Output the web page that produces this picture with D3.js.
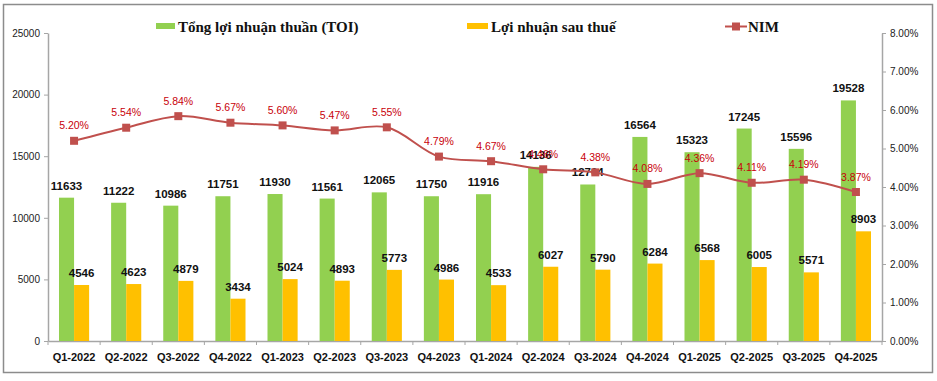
<!DOCTYPE html>
<html>
<head>
<meta charset="utf-8">
<script src="https://cdn.jsdelivr.net/npm/d3@7"></script>
<style>
html,body{margin:0;padding:0;background:#fff;}
svg{display:block;}
</style>
</head>
<body>
<svg id="chart" width="937" height="381"></svg>
<script>
const categories = ["Q1-2022","Q2-2022","Q3-2022","Q4-2022","Q1-2023","Q2-2023","Q3-2023","Q4-2023","Q1-2024","Q2-2024","Q3-2024","Q4-2024","Q1-2025","Q2-2025","Q3-2025","Q4-2025"];
const toi = [11633,11222,10986,11751,11930,11561,12065,11750,11916,14136,12704,16564,15323,17245,15596,19528];
const lnst = [4546,4623,4879,3434,5024,4893,5773,4986,4533,6027,5790,6284,6568,6005,5571,8903];
const nim = [5.20,5.54,5.84,5.67,5.60,5.47,5.55,4.79,4.67,4.46,4.38,4.08,4.36,4.11,4.19,3.87];
const leftTicks = [0,5000,10000,15000,20000,25000];
const rightTicks = [0,1,2,3,4,5,6,7,8];
const seriesNames = ["Tổng lợi nhuận thuần (TOI)","Lợi nhuận  sau thuế","NIM"];

const svg = d3.select("#chart");
const plot = {left:48, right:882, top:33, bottom:341};

// border
svg.append("rect").attr("x",3.5).attr("y",4.5).attr("width",929).attr("height",368)
  .attr("fill","#fff").attr("stroke","#8c8c8c").attr("stroke-width",1.5);

const x = d3.scaleBand().domain(categories).range([plot.left, plot.right]).paddingInner(0).paddingOuter(0);
const xi = d3.scaleBand().domain(["toi","lnst"]).range([0, x.bandwidth()]).paddingInner(0).paddingOuter(0.73);
const yL = d3.scaleLinear().domain([0,25000]).range([plot.bottom, plot.top]);
const yR = d3.scaleLinear().domain([0,8]).range([plot.bottom, plot.top]);

const axisColor = "#a6a6a6";
const tickFont = "'Liberation Sans', Arial, sans-serif";

// left axis
const gl = svg.append("g").attr("transform",`translate(${plot.left},0)`)
  .call(d3.axisLeft(yL).tickValues(leftTicks).tickSize(4).tickSizeOuter(0).tickFormat(d3.format("d")));
gl.select(".domain").attr("stroke",axisColor).attr("stroke-width",1.5);
gl.selectAll(".tick line").attr("stroke",axisColor);
gl.selectAll(".tick text").attr("font-family",tickFont).attr("font-size","10px").attr("fill","#222").attr("x",-8);

// right axis
const gr = svg.append("g").attr("transform",`translate(${plot.right},0)`)
  .call(d3.axisRight(yR).tickValues(rightTicks).tickSize(4).tickSizeOuter(0).tickFormat(d => d3.format(".2f")(d) + "%"));
gr.select(".domain").attr("stroke",axisColor).attr("stroke-width",1.5);
gr.selectAll(".tick line").attr("stroke",axisColor);
gr.selectAll(".tick text").attr("font-family",tickFont).attr("font-size","10px").attr("fill","#222").attr("x",8);

// x axis
const gx = svg.append("g").attr("transform",`translate(0,${plot.bottom})`)
  .call(d3.axisBottom(x).tickSize(0).tickSizeOuter(0));
gx.select(".domain").attr("stroke",axisColor).attr("stroke-width",1.5);
gx.selectAll(".tick text").attr("font-family",tickFont).attr("font-size","11px").attr("font-weight","bold").attr("fill","#111").attr("dy","0").attr("y",19.5);
// boundary tick marks
svg.append("g").selectAll("line").data(categories.concat([null])).join("line")
  .attr("x1",(d,i)=> i < categories.length ? x(d) : plot.right)
  .attr("x2",(d,i)=> i < categories.length ? x(d) : plot.right)
  .attr("y1",plot.bottom).attr("y2",plot.bottom+4)
  .attr("stroke",axisColor).attr("stroke-width",1);

const green = "#92D050", yellow = "#FFC000", red = "#C0504D", labelRed = "#C8000A";

// bars
const gBars = svg.append("g");
gBars.selectAll("rect.toi").data(toi).join("rect").attr("class","toi")
  .attr("x",(d,i)=> x(categories[i]) + xi("toi"))
  .attr("width", xi.bandwidth())
  .attr("y", d => yL(d)).attr("height", d => yL(0) - yL(d))
  .attr("fill", green);
gBars.selectAll("rect.lnst").data(lnst).join("rect").attr("class","lnst")
  .attr("x",(d,i)=> x(categories[i]) + xi("lnst"))
  .attr("width", xi.bandwidth())
  .attr("y", d => yL(d)).attr("height", d => yL(0) - yL(d))
  .attr("fill", yellow);

// bar labels
svg.append("g").selectAll("text.toiL").data(toi).join("text")
  .attr("x",(d,i)=> x(categories[i]) + xi("toi") + xi.bandwidth()/2)
  .attr("y", d => yL(d) - 8)
  .attr("text-anchor","middle").attr("font-family",tickFont).attr("font-size","11.5px")
  .attr("font-weight","bold").attr("fill","#111").text(d => d);
svg.append("g").selectAll("text.lnstL").data(lnst).join("text")
  .attr("x",(d,i)=> x(categories[i]) + xi("lnst") + xi.bandwidth()/2)
  .attr("y", d => yL(d) - 8)
  .attr("text-anchor","middle").attr("font-family",tickFont).attr("font-size","11.5px")
  .attr("font-weight","bold").attr("fill","#111").text(d => d);

// NIM line
const cx = i => x(categories[i]) + x.bandwidth()/2;
const line = d3.line().x((d,i)=> cx(i)).y(d => yR(d)).curve(d3.curveCatmullRom.alpha(0.5));
svg.append("path").datum(nim).attr("d", line).attr("fill","none").attr("stroke",red).attr("stroke-width",2);
svg.append("g").selectAll("rect").data(nim).join("rect")
  .attr("x",(d,i)=> cx(i) - 4).attr("y", d => yR(d) - 4)
  .attr("width",8).attr("height",8).attr("fill",red);
svg.append("g").selectAll("text").data(nim).join("text")
  .attr("x",(d,i)=> cx(i)).attr("y", d => yR(d) - 11.5)
  .attr("text-anchor","middle").attr("font-family",tickFont).attr("font-size","10.5px")
  .attr("fill",labelRed).text(d => d3.format(".2f")(d) + "%");

// legend
const legFont = "'Liberation Serif', 'Times New Roman', serif";
const leg = svg.append("g");
leg.append("rect").attr("x",156).attr("y",23).attr("width",19).attr("height",6).attr("fill",green);
leg.append("text").attr("x",178).attr("y",32).attr("font-family",legFont).attr("font-size","15px").attr("font-weight","bold").attr("fill","#111").text(seriesNames[0]);
leg.append("rect").attr("x",467).attr("y",23).attr("width",21).attr("height",6).attr("fill",yellow);
leg.append("text").attr("x",491).attr("y",32).attr("font-family",legFont).attr("font-size","15px").attr("font-weight","bold").attr("fill","#111").text(seriesNames[1]);
leg.append("line").attr("x1",725).attr("x2",747).attr("y1",26.5).attr("y2",26.5).attr("stroke",red).attr("stroke-width",2);
leg.append("rect").attr("x",732).attr("y",22.5).attr("width",8).attr("height",8).attr("fill",red);
leg.append("text").attr("x",748).attr("y",32).attr("font-family",legFont).attr("font-size","15px").attr("font-weight","bold").attr("fill","#111").text(seriesNames[2]);
</script>
</body>
</html>
